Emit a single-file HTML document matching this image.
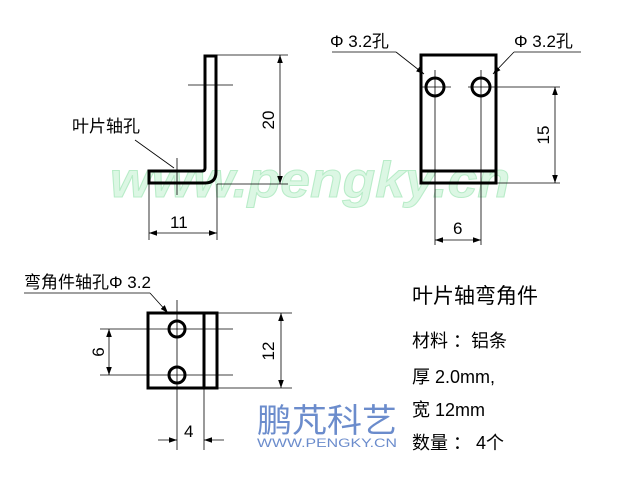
<!DOCTYPE html>
<html><head><meta charset="utf-8"><style>
html,body{margin:0;padding:0;background:#fff;}
svg{display:block;}
text{font-family:"Liberation Sans","Noto Sans CJK SC",sans-serif;}
</style></head><body>
<svg width="640" height="480" viewBox="0 0 640 480" xmlns="http://www.w3.org/2000/svg">
<defs>
<marker id="a" viewBox="0 0 10 10" refX="10" refY="5" markerWidth="8" markerHeight="8" orient="auto-start-reverse" markerUnits="userSpaceOnUse"><path d="M0,1.5 L10,5 L0,8.5 Z" fill="#000"/></marker>
</defs>
<text x="110" y="197" font-size="50" font-weight="bold" font-style="italic" fill="#dcf7e4" stroke="#b8ecc8" stroke-width="1" textLength="400" lengthAdjust="spacingAndGlyphs">www.pengky.cn</text>

<g stroke="#000" fill="none">
<path d="M149,171 H202 Q205,171 205,168 V56 H216 V172 Q216,183 205,183 H149 Z" stroke-width="3"/>
<g stroke-width="0.8">
<line x1="188" y1="85" x2="233" y2="85"/>
<line x1="177" y1="158" x2="177" y2="195"/>
<line x1="217" y1="55" x2="288" y2="55"/>
<line x1="217" y1="184" x2="288" y2="184"/>
<line x1="280" y1="55" x2="280" y2="184" marker-start="url(#a)" marker-end="url(#a)"/>
<line x1="149" y1="184" x2="149" y2="240"/>
<line x1="217" y1="184" x2="217" y2="240"/>
<line x1="149" y1="233" x2="217" y2="233" marker-start="url(#a)" marker-end="url(#a)"/>
<line x1="135" y1="140" x2="174" y2="168"/>
</g>
<rect x="421" y="55" width="75" height="128" stroke-width="3"/>
<line x1="421" y1="171" x2="496" y2="171" stroke-width="3"/>
<circle cx="435" cy="87" r="9" stroke-width="3"/>
<circle cx="481" cy="87" r="9" stroke-width="3"/>
<g stroke-width="0.8">
<line x1="435" y1="70" x2="435" y2="245"/>
<line x1="481" y1="70" x2="481" y2="245"/>
<line x1="422" y1="87" x2="451" y2="87"/>
<line x1="468" y1="87" x2="560" y2="87"/>
<line x1="497" y1="183" x2="560" y2="183"/>
<line x1="555" y1="87" x2="555" y2="183" marker-start="url(#a)" marker-end="url(#a)"/>
<line x1="435" y1="240" x2="481" y2="240" marker-start="url(#a)" marker-end="url(#a)"/>
<line x1="332" y1="52" x2="396" y2="52"/>
<line x1="396" y1="52" x2="424" y2="74" marker-end="url(#a)"/>
<line x1="514" y1="52" x2="581" y2="52"/>
<line x1="514" y1="52" x2="493" y2="74" marker-end="url(#a)"/>
</g>
<rect x="148" y="313" width="69" height="75" stroke-width="3"/>
<line x1="204" y1="313" x2="204" y2="388" stroke-width="3"/>
<circle cx="177" cy="329" r="8" stroke-width="3"/>
<circle cx="177" cy="375" r="8" stroke-width="3"/>
<g stroke-width="0.8">
<line x1="100" y1="329" x2="233" y2="329"/>
<line x1="100" y1="375" x2="233" y2="375"/>
<line x1="109" y1="329" x2="109" y2="375" marker-start="url(#a)" marker-end="url(#a)"/>
<line x1="217" y1="313" x2="292" y2="313"/>
<line x1="217" y1="388" x2="292" y2="388"/>
<line x1="281" y1="313" x2="281" y2="388" marker-start="url(#a)" marker-end="url(#a)"/>
<line x1="177" y1="300" x2="177" y2="450"/>
<line x1="204" y1="388" x2="204" y2="450"/>
<line x1="158" y1="440" x2="177" y2="440" marker-end="url(#a)"/>
<line x1="224" y1="440" x2="204" y2="440" marker-end="url(#a)"/>
<line x1="24" y1="293" x2="150" y2="293"/>
<line x1="150" y1="293" x2="168" y2="313" marker-end="url(#a)"/>
</g>
</g>

<g fill="#000" font-size="17">
<text x="72" y="132">叶片轴孔</text>
<text x="170" y="228">11</text>
<text transform="translate(274,120) rotate(-90)" text-anchor="middle">20</text>
<text x="330" y="47">Φ 3.2孔</text>
<text x="514" y="47">Φ 3.2孔</text>
<text transform="translate(549,135) rotate(-90)" text-anchor="middle">15</text>
<text x="453" y="234">6</text>
<text x="24" y="288">弯角件轴孔Φ 3.2</text>
<text transform="translate(104,352) rotate(-90)" text-anchor="middle">6</text>
<text transform="translate(274,351) rotate(-90)" text-anchor="middle">12</text>
<text x="184" y="437">4</text>
<text x="412" y="303" font-size="21">叶片轴弯角件</text>
<text x="412" y="347" font-size="18">材料 ：铝条</text>
<text x="412" y="383" font-size="18">厚 2.0mm,</text>
<text x="412" y="416" font-size="18">宽 12mm</text>
<text x="412" y="449" font-size="18">数量 ： 4个</text>
</g>
<text x="257" y="432" font-size="33" fill="#6b8ccc" textLength="140" lengthAdjust="spacingAndGlyphs">鹏芃科艺</text>
<text x="257" y="447" font-size="12" fill="#6b8ccc" textLength="140" lengthAdjust="spacingAndGlyphs">WWW.PENGKY.CN</text>
</svg>
</body></html>
